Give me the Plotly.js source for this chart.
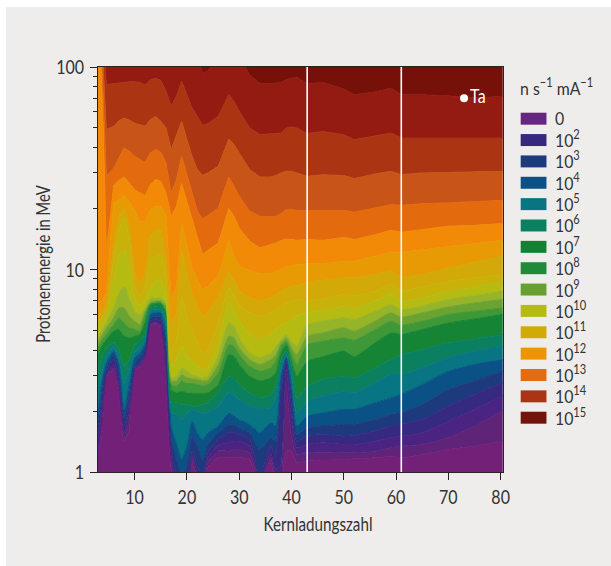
<!DOCTYPE html>
<html><head><meta charset="utf-8">
<script src="https://cdn.plot.ly/plotly-3.0.1.min.js"></script>
<style>html,body{margin:0;padding:0;background:#fff;overflow:hidden}#c{position:absolute;left:6px;top:7px;width:605px;height:559px}</style>
</head><body><div id="c"></div>
<script>
// Atomic number columns
const Z=[3,3.7,4.6,6,7,8,9,10,11,12,13,14,15,16,17,18,19,20,21,22,23,24,26,28,29,30,32,34,36,37,38,39,40,41,43,46,50,52,56,59,61,65,70,75,80.4];
// log10(proton energy / MeV) of each contour boundary, highest contour first
const T1=[2.9,2.4,2.05,2.05,2.05,2.05,2.05,2.05,2.05,2.05,2.05,2.05,2.05,2.05,2.05,2.05,2.05,2.05,2.05,2.05,1.97,1.98,2.05,2.05,2.05,2.05,1.96,1.918,1.918,1.921,1.924,1.937,1.946,1.95,1.918,1.924,1.891,1.863,1.876,1.896,1.863,1.863,1.858,1.847,1.855];
const T2=[2.8,2.3,1.913,1.918,1.921,1.924,1.927,1.927,1.924,1.911,1.937,1.944,1.934,1.880,1.806,1.855,1.929,1.863,1.797,1.756,1.712,1.720,1.756,1.863,1.830,1.781,1.699,1.666,1.669,1.671,1.674,1.699,1.704,1.699,1.671,1.682,1.666,1.641,1.658,1.674,1.649,1.649,1.649,1.649,1.649];
const T3=[2.7,2.15,1.691,1.707,1.735,1.748,1.737,1.723,1.715,1.707,1.740,1.756,1.732,1.699,1.592,1.658,1.732,1.641,1.559,1.493,1.465,1.477,1.510,1.644,1.617,1.575,1.493,1.457,1.457,1.464,1.477,1.485,1.485,1.477,1.460,1.468,1.464,1.449,1.472,1.485,1.468,1.477,1.480,1.482,1.485];
const T4=[2.6,2.05,1.460,1.501,1.551,1.600,1.584,1.559,1.543,1.529,1.575,1.592,1.579,1.526,1.378,1.444,1.559,1.468,1.386,1.288,1.250,1.266,1.304,1.457,1.411,1.362,1.288,1.263,1.260,1.263,1.276,1.296,1.296,1.292,1.292,1.292,1.292,1.283,1.304,1.320,1.317,1.325,1.329,1.337,1.342];
const T5=[2.5,2.0,1.090,1.414,1.440,1.457,1.427,1.394,1.378,1.365,1.419,1.444,1.436,1.378,1.263,1.312,1.424,1.337,1.238,1.164,1.074,1.095,1.131,1.301,1.263,1.205,1.139,1.107,1.121,1.131,1.143,1.151,1.148,1.144,1.148,1.144,1.159,1.148,1.172,1.194,1.184,1.197,1.214,1.218,1.227];
const T6=[0.835,0.843,0.884,1.329,1.345,1.365,1.332,1.296,1.238,1.238,1.296,1.312,1.312,1.263,0.852,0.917,1.230,1.115,1.008,0.950,0.901,0.917,0.967,1.143,1.065,1.016,0.995,0.980,0.983,0.991,1.000,1.013,1.016,1.024,1.029,1.029,1.041,1.041,1.065,1.085,1.085,1.098,1.111,1.128,1.144];
const T7=[0.769,0.786,0.819,1.115,1.263,1.301,1.214,0.983,0.926,0.983,1.164,1.194,1.197,1.049,0.720,0.786,1.090,0.983,0.876,0.819,0.769,0.786,0.868,0.991,0.950,0.893,0.860,0.843,0.860,0.876,0.893,0.909,0.917,0.921,0.937,0.947,0.959,0.959,0.975,0.996,0.959,0.975,1.008,1.036,1.065];
const T8=[0.745,0.761,0.810,1.049,1.197,1.255,1.148,0.917,0.868,0.917,1.049,1.065,1.074,0.967,0.588,0.654,0.868,0.769,0.704,0.638,0.588,0.605,0.736,0.909,0.876,0.827,0.786,0.769,0.786,0.802,0.819,0.835,0.843,0.852,0.843,0.855,0.876,0.871,0.893,0.926,0.898,0.914,0.942,0.959,0.975];
const T9=[0.695,0.736,0.769,0.950,1.065,1.098,1.000,0.860,0.827,0.852,0.909,0.942,0.950,0.868,0.523,0.556,0.621,0.572,0.547,0.523,0.506,0.514,0.638,0.835,0.794,0.745,0.679,0.654,0.679,0.704,0.720,0.736,0.753,0.769,0.786,0.799,0.819,0.810,0.843,0.876,0.843,0.860,0.893,0.914,0.934];
const T10=[0.662,0.695,0.736,0.810,0.884,0.917,0.852,0.794,0.778,0.810,0.860,0.860,0.860,0.835,0.465,0.473,0.514,0.498,0.481,0.473,0.465,0.473,0.572,0.736,0.720,0.662,0.588,0.564,0.588,0.621,0.654,0.679,0.646,0.621,0.728,0.745,0.761,0.753,0.794,0.827,0.802,0.819,0.852,0.871,0.893];
const T11=[0.638,0.671,0.712,0.761,0.810,0.810,0.769,0.745,0.728,0.794,0.838,0.845,0.845,0.819,0.449,0.449,0.481,0.465,0.460,0.457,0.449,0.453,0.531,0.671,0.662,0.613,0.555,0.531,0.555,0.580,0.638,0.662,0.613,0.580,0.671,0.687,0.712,0.695,0.745,0.786,0.764,0.786,0.815,0.835,0.852];
const T12=[0.613,0.646,0.679,0.728,0.761,0.736,0.712,0.704,0.695,0.778,0.832,0.838,0.838,0.802,0.432,0.424,0.449,0.437,0.437,0.432,0.427,0.432,0.490,0.629,0.621,0.580,0.523,0.498,0.514,0.547,0.621,0.646,0.588,0.531,0.629,0.646,0.662,0.651,0.704,0.745,0.725,0.745,0.778,0.794,0.810];
const T13=[0.588,0.621,0.654,0.695,0.704,0.671,0.662,0.671,0.679,0.736,0.824,0.832,0.832,0.786,0.407,0.391,0.399,0.391,0.388,0.388,0.388,0.391,0.432,0.580,0.572,0.531,0.473,0.449,0.465,0.490,0.588,0.629,0.547,0.473,0.547,0.569,0.597,0.569,0.638,0.687,0.679,0.704,0.736,0.756,0.778];
const T14=[0.506,0.564,0.613,0.641,0.605,0.523,0.555,0.629,0.646,0.679,0.810,0.819,0.819,0.753,0.342,0.342,0.333,0.333,0.325,0.325,0.333,0.342,0.391,0.473,0.465,0.432,0.391,0.366,0.383,0.424,0.555,0.597,0.531,0.366,0.424,0.457,0.473,0.465,0.514,0.555,0.580,0.605,0.638,0.657,0.679];
const T15=[0.407,0.490,0.572,0.618,0.564,0.440,0.506,0.588,0.613,0.654,0.794,0.802,0.802,0.720,0.292,0.284,0.259,0.289,0.309,0.301,0.289,0.296,0.325,0.391,0.383,0.358,0.325,0.309,0.317,0.366,0.514,0.580,0.473,0.292,0.350,0.375,0.399,0.391,0.440,0.481,0.481,0.514,0.564,0.597,0.621];
const T16=[0.292,0.440,0.539,0.597,0.531,0.309,0.440,0.564,0.588,0.629,0.778,0.786,0.786,0.679,0.227,0.144,0.062,0.128,0.251,0.194,0.161,0.194,0.227,0.292,0.276,0.259,0.235,0.194,0.246,0.227,0.473,0.569,0.424,0.227,0.276,0.292,0.309,0.309,0.342,0.366,0.383,0.432,0.498,0.531,0.555];
const T17=[0.227,0.391,0.514,0.580,0.506,0.268,0.391,0.531,0.564,0.605,0.761,0.769,0.766,0.621,0.161,0.062,-0.012,0.029,0.177,0.128,0.054,0.136,0.194,0.235,0.235,0.218,0.194,0.111,0.169,0.152,0.432,0.559,0.383,0.185,0.218,0.227,0.235,0.235,0.259,0.284,0.292,0.333,0.407,0.449,0.498];
const T18=[0.177,0.342,0.498,0.555,0.465,0.227,0.350,0.514,0.539,0.588,0.745,0.753,0.745,0.572,0.128,-0.020,-0.086,-0.053,0.103,0.029,-0.028,0.095,0.161,0.194,0.194,0.185,0.161,-0.020,0.128,0.078,0.391,0.547,0.342,0.152,0.177,0.185,0.177,0.180,0.202,0.227,0.235,0.259,0.325,0.383,0.440];
const T19=[0.144,0.292,0.481,0.531,0.432,0.194,0.309,0.509,0.531,0.575,0.733,0.740,0.728,0.531,0.078,-0.070,-0.119,-0.086,0.078,-0.004,-0.070,0.070,0.131,0.144,0.152,0.152,0.128,-0.053,0.095,0.013,0.037,0.514,0.276,0.120,0.136,0.144,0.136,0.136,0.152,0.169,0.177,0.194,0.251,0.309,0.375];
const T20=[0.120,0.210,0.473,0.514,0.407,0.169,0.259,0.506,0.523,0.569,0.727,0.733,0.720,0.473,0.046,-0.103,-0.152,-0.119,0.062,-0.037,-0.103,0.046,0.103,0.103,0.111,0.111,0.095,-0.070,0.070,-0.020,-0.020,0.424,0.177,0.087,0.095,0.098,0.095,0.095,0.103,0.120,0.128,0.136,0.169,0.227,0.301];
const T21=[0.087,0.161,0.465,0.506,0.383,0.152,0.210,0.503,0.519,0.562,0.720,0.727,0.712,0.432,0.013,-0.135,-0.185,-0.144,0.054,-0.070,-0.135,0.021,0.070,0.070,0.070,0.070,0.062,-0.103,0.049,-0.053,-0.053,0.103,0.103,0.046,0.054,0.059,0.062,0.065,0.070,0.078,0.070,0.087,0.111,0.128,0.152];
const boundaries=[T1,T2,T3,T4,T5,T6,T7,T8,T9,T10,T11,T12,T13,T14,T15,T16,T17,T18,T19,T20,T21];
// Band colours, index 0 is the top band
const bandColors=['#751109','#931b12','#ab3412','#c85517','#e36a0d','#f28a07','#e89a05','#d2a908','#c8b20a','#b6bb12','#96b42a','#6ba333','#3f9838','#158435','#0a8060','#087583','#0a5285','#1d3a7e','#352a80','#4a2480','#5f2378','#722078'];
const xTicks=[10,20,30,40,50,60,70,80];
const yTicks=[1,10,100];
const yMinor=[2,3,4,5,6,7,8,9,20,30,40,50,60,70,80,90];
const gapElements=[43,61];
const markZ=[73], markE=[70], markText=['Ta'];
const legendTitle='n s<sup>−1</sup> mA<sup>−1</sup>';
const legendLabels=['0','10<sup>2</sup>','10<sup>3</sup>','10<sup>4</sup>','10<sup>5</sup>','10<sup>6</sup>','10<sup>7</sup>','10<sup>8</sup>','10<sup>9</sup>','10<sup>10</sup>','10<sup>11</sup>','10<sup>12</sup>','10<sup>13</sup>','10<sup>14</sup>','10<sup>15</sup>'];
const legendColors=['#662483','#36287f','#1c3b7b','#0a5285','#087583','#0a8060','#138034','#1f8a3a','#67a02f','#b5bc10','#d2aa07','#ee9405','#e46c0e','#aa3414','#74120c'];

const FONT='Lato,"Liberation Sans",sans-serif';
const FS=20, LEG=18, INK='#333333', AX='#2b2222', SQUEEZE=0.8, LEGSQ=0.88;
const toE=a=>a.map(v=>Math.pow(10,v));
const W=605,H=559,mL=92,mR=107.7,mT=59.7,mB=93.5;
const pw=W-mL-mR, ph=H-mT-mB;
const traces=[];
traces.push({x:Z,y:Z.map(()=>0.5),mode:'lines',line:{width:0},hoverinfo:'skip',showlegend:false});
for(let i=boundaries.length-1;i>=0;i--){
  traces.push({x:Z,y:toE(boundaries[i]),mode:'lines',fill:'tonexty',fillcolor:bandColors[i+1],
    line:{width:1,color:bandColors[i+1],shape:i>=7?'spline':'linear',smoothing:0.5},hoverinfo:'skip',showlegend:false});
}
traces.push({x:Z,y:Z.map(()=>1000),mode:'lines',fill:'tonexty',fillcolor:bandColors[0],line:{width:0},hoverinfo:'skip',showlegend:false});
gapElements.forEach(g=>traces.push({x:[g,g],y:[1,100],mode:'lines',line:{color:'#ffffff',width:1.6},hoverinfo:'skip',showlegend:false}));
traces.push({x:markZ,y:markE,text:markText,mode:'markers+text',textposition:'middle right',
  marker:{color:'#ffffff',size:8},textfont:{family:FONT,size:FS,color:'#ffffff'},hoverinfo:'skip',showlegend:false});

const px=p=>(p-6-mL)/pw, py=p=>1-(p-7-mT)/ph;
const shapes=[],ann=[];
legendLabels.forEach((t,i)=>{
  const top=112.5+i*21.4;
  shapes.push({type:'rect',xref:'paper',yref:'paper',x0:px(521),x1:px(546.8),y0:py(top),y1:py(top+12),fillcolor:legendColors[i],line:{width:0}});
  ann.push({xref:'paper',yref:'paper',x:px(553),y:py(top+5),xanchor:'left',yanchor:'middle',showarrow:false,text:t,font:{family:FONT,size:LEG,color:INK}});
});
ann.push({xref:'paper',yref:'paper',x:px(518),y:py(87),xanchor:'left',yanchor:'middle',showarrow:false,text:legendTitle,font:{family:FONT,size:LEG,color:INK}});

Plotly.newPlot('c',traces,{
  width:W,height:H,paper_bgcolor:'#eeedeb',plot_bgcolor:'#eeedeb',showlegend:false,
  margin:{l:mL,r:mR,t:mT,b:mB,pad:0,autoexpand:false},
  font:{family:FONT,size:FS,color:INK},
  xaxis:{range:[3,80.45],tickmode:'array',tickvals:xTicks,ticks:'outside',ticklen:7,tickwidth:1,tickcolor:AX,showgrid:false,zeroline:false,showline:true,mirror:true,linecolor:AX,linewidth:1,
    title:{text:'Kernladungszahl',font:{family:FONT,size:FS,color:INK},standoff:10},tickfont:{family:FONT,size:FS,color:INK},layer:'above traces'},
  yaxis:{type:'log',range:[0,2],tickmode:'array',tickvals:yTicks,ticktext:yTicks.map(String),ticks:'outside',ticklen:7,tickwidth:1,tickcolor:AX,ticklabelstandoff:2,showgrid:false,zeroline:false,showline:true,mirror:true,linecolor:AX,linewidth:1,
    minor:{tickmode:'array',tickvals:yMinor,ticks:'outside',ticklen:4,tickwidth:1,tickcolor:AX,showgrid:false},
    title:{text:'Protonenenergie in MeV',font:{family:FONT,size:FS,color:INK},standoff:8},tickfont:{family:FONT,size:FS,color:INK},layer:'above traces'},
  shapes:shapes,annotations:ann
},{displayModeBar:false,staticPlot:true}).then(()=>{
  // The reference uses a condensed face: narrow every label along its own baseline.
  const root=document.getElementById('c');
  const squeeze=(el,s)=>{
    const x=parseFloat(el.getAttribute('x'))||0, tr=el.getAttribute('transform')||'';
    el.setAttribute('transform',`${tr} translate(${x},0) scale(${s},1) translate(${-x},0)`);
  };
  const shift=(el,dx,dy)=>{el.setAttribute('transform',`translate(${dx},${dy}) ${el.getAttribute('transform')||''}`);};
  root.querySelectorAll('svg text').forEach(el=>{
    if(el.classList.contains('xtitle')||el.classList.contains('ytitle')) return;
    const before=el.getBoundingClientRect().left;
    const isAnn=el.classList.contains('annotation-text');
    squeeze(el,isAnn?LEGSQ:SQUEEZE);
    if(isAnn||el.parentNode.classList.contains('textpoint')) shift(el,before-el.getBoundingClientRect().left,0);
  });
  const fit=(sel,len,vertical,cx,cy)=>{
    const el=root.querySelector(sel); if(!el) return;
    const r0=el.getBoundingClientRect();
    squeeze(el,len/(vertical?r0.height:r0.width));
    const r=el.getBoundingClientRect();
    shift(el,cx-(r.left+r.right)/2,cy-(r.top+r.bottom)/2);
  };
  fit('.xtitle',109,false,318,523);
  fit('.ytitle',158,true,43,264);
});
</script></body></html>
